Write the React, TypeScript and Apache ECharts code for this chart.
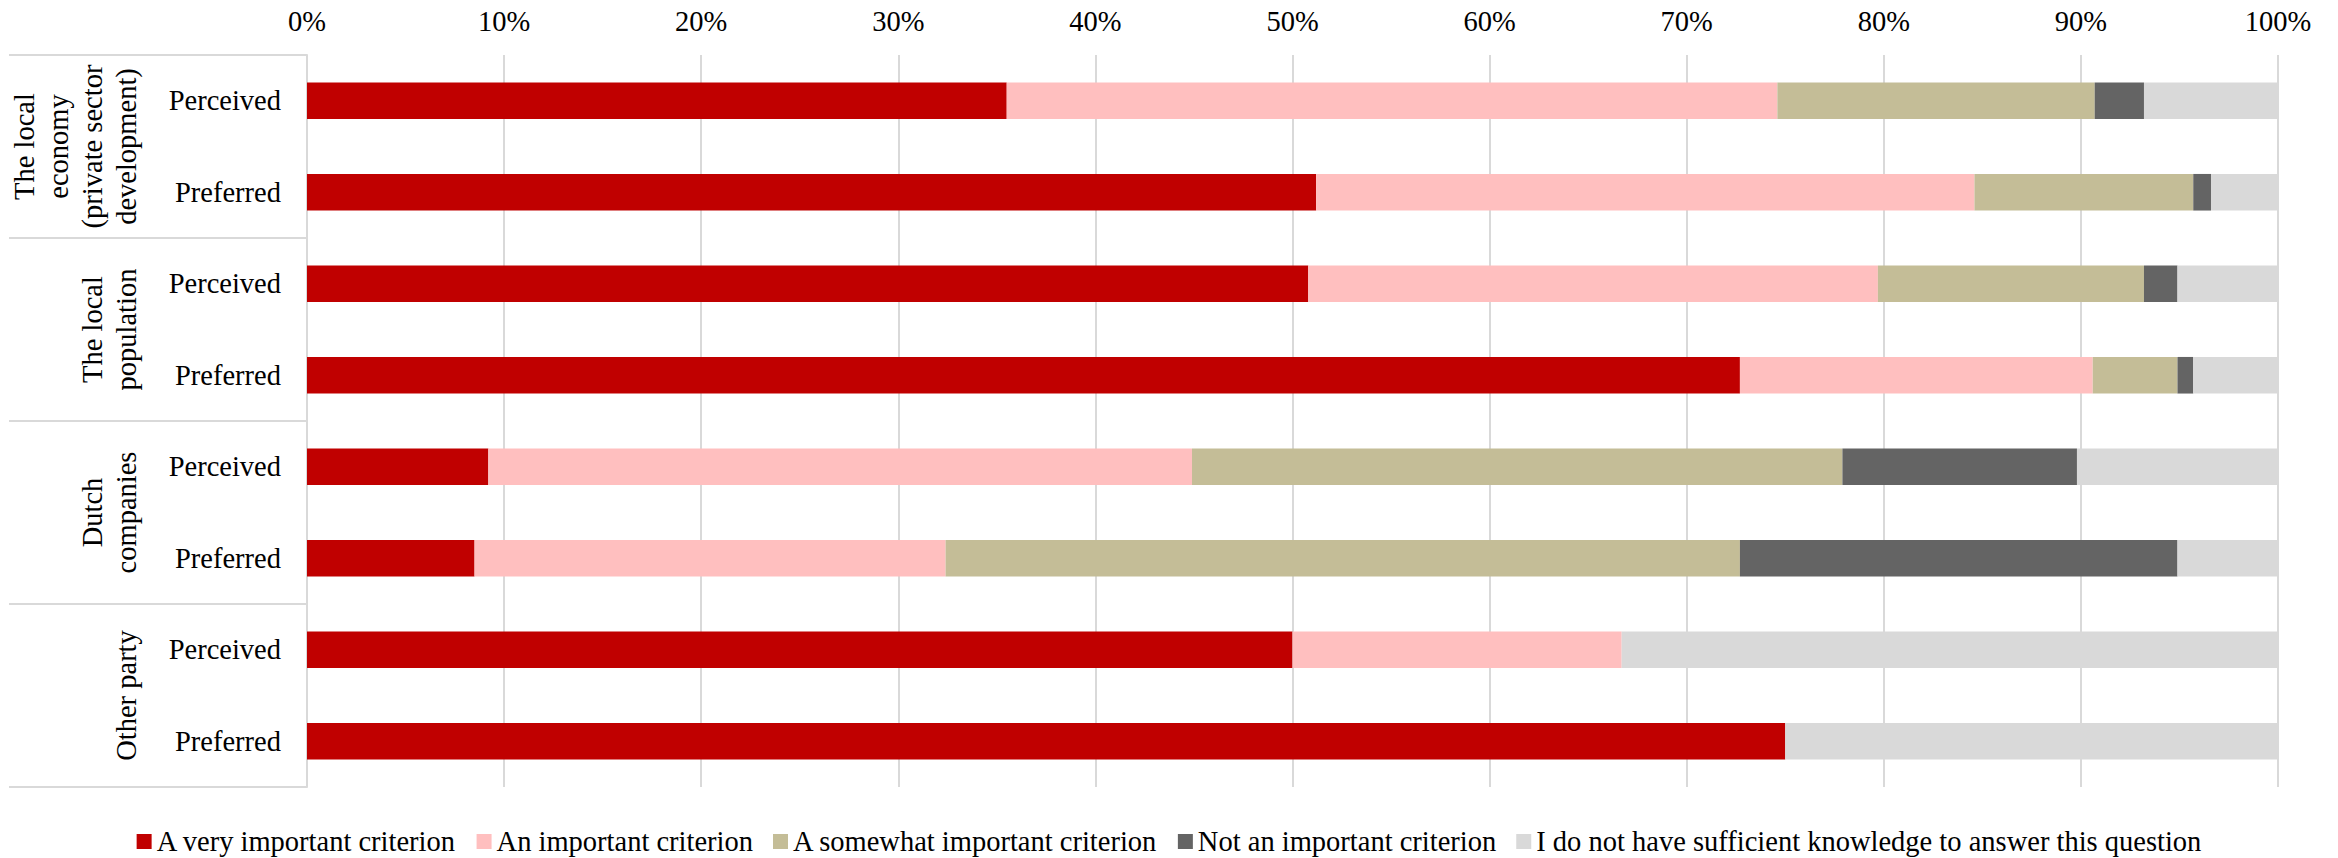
import React, { useEffect, useRef } from "react";
import * as echarts from "echarts";

const groupLabels = [
  "The local\neconomy\n(private sector\ndevelopment)",
  "The local\npopulation",
  "Dutch\ncompanies",
  "Other party",
];
const subLabels = [
  "Perceived",
  "Preferred",
  "Perceived",
  "Preferred",
  "Perceived",
  "Preferred",
  "Perceived",
  "Preferred",
];
const seriesNames = [
  "A very important criterion",
  "An important criterion",
  "A somewhat important criterion",
  "Not an important criterion",
  "I do not have sufficient knowledge to answer this question",
];
const veryImportant = [35.5, 51.2, 50.8, 72.7, 9.2, 8.5, 50.0, 75.0];
const important = [39.1, 33.4, 28.9, 17.9, 35.7, 23.9, 16.7, 0];
const somewhat = [16.1, 11.1, 13.5, 4.3, 33.0, 40.3, 0, 0];
const notImportant = [2.5, 0.9, 1.7, 0.8, 11.9, 22.2, 0, 0];
const noKnowledge = [6.8, 3.4, 5.1, 4.3, 10.2, 5.1, 33.3, 25.0];
const xTickValues = [0, 10, 20, 30, 40, 50, 60, 70, 80, 90, 100];

const colors = ["#C00000", "#FFBFBF", "#C4BD97", "#646464", "#D9D9D9"];
const FONT = "'Liberation Serif', 'DejaVu Serif', serif";
const FS = 28.5;

export default function App() {
  const ref = useRef<HTMLDivElement>(null);

  useEffect(() => {
    if (!ref.current) return;
    const chart = echarts.init(ref.current, null, { renderer: "svg" });
    const seriesData = [veryImportant, important, somewhat, notImportant, noKnowledge];
    const categories = subLabels.map((s, i) => `${Math.floor(i / 2)}|${s}`);

    chart.setOption({
      animation: false,
      backgroundColor: "#ffffff",
      textStyle: { fontFamily: FONT },
      grid: { left: 307, right: 60, top: 55, bottom: 71, containLabel: false },
      legend: {
        data: seriesNames,
        left: "center",
        top: 822,
        itemWidth: 15,
        itemHeight: 15,
        itemGap: 20,
        icon: "rect",
        textStyle: { fontSize: FS, color: "#000", fontFamily: FONT },
      },
      xAxis: {
        type: "value",
        position: "top",
        min: xTickValues[0],
        max: xTickValues[xTickValues.length - 1],
        interval: 10,
        axisLine: { show: false },
        axisTick: { show: false },
        splitLine: { show: true, lineStyle: { color: "#D9D9D9", width: 2 } },
        axisLabel: {
          formatter: "{value}%",
          fontSize: FS,
          color: "#000",
          fontFamily: FONT,
          margin: 19,
        },
      },
      yAxis: [
        {
          type: "category",
          data: categories,
          inverse: true,
          position: "left",
          axisLine: { show: true, lineStyle: { color: "#D9D9D9", width: 2 } },
          axisTick: { show: false },
          axisLabel: {
            formatter: (v: string) => v.split("|")[1],
            fontSize: FS,
            color: "#000",
            fontFamily: FONT,
            margin: 26,
          },
        },
        {
          type: "category",
          data: groupLabels,
          inverse: true,
          position: "left",
          offset: 0,
          axisLine: { show: false },
          axisTick: {
            show: true,
            length: 298,
            interval: 0,
            lineStyle: { color: "#D9D9D9", width: 2 },
          },
          axisLabel: {
            rotate: 90,
            interval: 0,
            fontSize: FS,
            lineHeight: 34,
            color: "#000",
            fontFamily: FONT,
            margin: 164,
          },
        },
      ],
      series: seriesNames.map((name, k) => ({
        name,
        type: "bar",
        stack: "total",
        yAxisIndex: 0,
        barCategoryGap: "60%",
        itemStyle: { color: colors[k] },
        data: seriesData[k],
      })),
    });

    return () => chart.dispose();
  }, []);

  return (
    <div
      ref={ref}
      style={{ position: "fixed", left: 0, top: 0, width: 2338, height: 858, background: "#fff" }}
    />
  );
}
